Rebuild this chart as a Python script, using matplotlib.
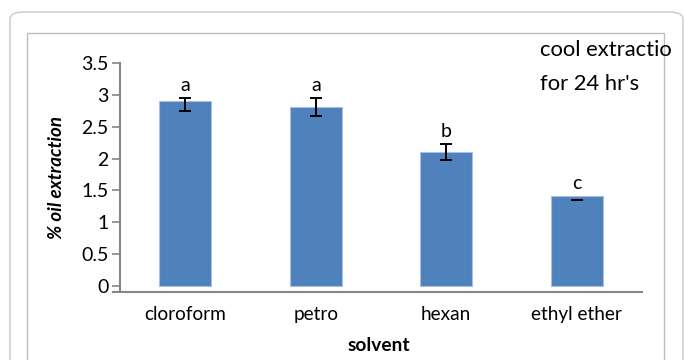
import matplotlib.pyplot as plt
from matplotlib.patches import FancyBboxPatch, Rectangle

# data
solvents = ['cloroform', 'petro', 'hexan', 'ethyl ether']
oil = [2.90, 2.81, 2.11, 1.42]
err_mid = [2.85, 2.81, 2.10, 1.355]
err = [0.10, 0.14, 0.13, 0.0]
letters = ['a', 'a', 'b', 'c']
yticks = [0, 0.5, 1, 1.5, 2, 2.5, 3, 3.5]

plt.rcParams['font.family'] = ['Lato', 'DejaVu Sans']

fig = plt.figure(figsize=(6.85, 3.6), dpi=100)

# frames around the chart
outer = FancyBboxPatch((10 / 685, -0.2), 673 / 685, 0.2 + 1 - 12 / 360,
                       boxstyle='round,pad=0,rounding_size=0.02',
                       transform=fig.transFigure, fill=False,
                       edgecolor='#c8c8c8', linewidth=1.0)
inner = Rectangle((27 / 685, -0.2), 637 / 685, 0.2 + 1 - 33 / 360,
                  transform=fig.transFigure, fill=False,
                  edgecolor='#bdbdbd', linewidth=1.0)
fig.patches.extend([outer, inner])

ax = fig.add_axes([120 / 685, 68 / 360, 522 / 685, 229 / 360])
x = range(len(solvents))
ax.bar(x, oil, width=0.4, color='#4f81bd', edgecolor='#a8c0de', linewidth=0.8)
ax.errorbar(x, err_mid, yerr=err, fmt='none', ecolor='black',
            elinewidth=1.4, capsize=4, capthick=1.4)

for i, lab in enumerate(letters):
    top = max(oil[i], err_mid[i] + err[i])
    ax.text(i, top + 0.19, lab, ha='center', va='center', fontsize=14)

ax.set_xlim(-0.5, 3.5)
ax.set_ylim(-0.094, 3.5)
ax.set_yticks(yticks)
ax.set_yticklabels([f'{t:g}' for t in yticks], fontsize=14)
ax.set_xticks(list(x))
ax.set_xticklabels(solvents, fontsize=13.7)
ax.tick_params(axis='x', length=0, pad=10)
ax.tick_params(axis='y', length=6, width=1.2, color='#868686', pad=2)

for s in ['top', 'right']:
    ax.spines[s].set_visible(False)
for s in ['left', 'bottom']:
    ax.spines[s].set_color('#868686')
    ax.spines[s].set_linewidth(1.5)
ax.spines['bottom'].set_bounds(-0.55, 3.5)
ax.spines['bottom'].set_clip_on(False)

ax.set_ylabel('% oil extraction', fontsize=13.5, fontweight='bold', style='italic')
ax.yaxis.set_label_coords(-0.105, 0.5)
ax.set_xlabel('solvent', fontsize=13.8, fontweight='bold')
ax.xaxis.set_label_coords(0.496, -0.195)

fig.text(540 / 685, 1 - 50 / 360, 'cool extractio', fontsize=15.8, va='center')
fig.text(540 / 685, 1 - 84 / 360, "for 24 hr's", fontsize=15.8, va='center')

fig.savefig('out.png', dpi=100)
